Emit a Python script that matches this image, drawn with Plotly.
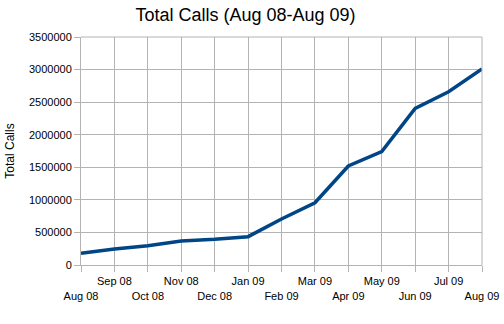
import plotly.graph_objects as go

months = ["Aug 08", "Sep 08", "Oct 08", "Nov 08", "Dec 08", "Jan 09", "Feb 09",
          "Mar 09", "Apr 09", "May 09", "Jun 09", "Jul 09", "Aug 09"]
total_calls = [180000, 245000, 296000, 368000, 394000, 435000, 706000,
               956000, 1520000, 1740000, 2405000, 2660000, 3010000]
y_ticks = [0, 500000, 1000000, 1500000, 2000000, 2500000, 3000000, 3500000]

# staggered month labels: even months on the lower row
tick_text = [("<br>" + m) if i % 2 == 0 else m for i, m in enumerate(months)]

fig = go.Figure()
fig.add_trace(go.Scatter(
    x=list(range(len(months))), y=total_calls, mode="lines",
    line=dict(color="#004586", width=3.5),
    hoverinfo="skip", showlegend=False,
))

grid = "#b3b3b3"
fig.update_layout(
    width=504, height=324,
    margin=dict(l=81, r=22, t=37, b=59),
    paper_bgcolor="white", plot_bgcolor="white",
    font=dict(family="Liberation Sans, Arial, sans-serif", size=11, color="#000000"),
    title=dict(text="Total Calls (Aug 08-Aug 09)", x=0.487, xanchor="center",
               y=0.955, yanchor="middle", font=dict(size=18, color="#000000")),
    xaxis=dict(
        range=[0, len(months) - 1], tickmode="array",
        tickvals=list(range(len(months))), ticktext=tick_text,
        tickangle=0, automargin=False,
        showgrid=True, gridcolor=grid, gridwidth=1,
        showline=True, linecolor=grid, linewidth=1,
        ticks="outside", ticklen=6, tickcolor=grid,
        zeroline=False, fixedrange=True,
    ),
    yaxis=dict(
        range=[0, 3500000], tickmode="array", tickvals=y_ticks,
        ticktext=[str(v) for v in y_ticks], automargin=False,
        showgrid=True, gridcolor=grid, gridwidth=1,
        showline=True, linecolor=grid, linewidth=1,
        ticks="outside", ticklen=6, tickcolor=grid,
        zeroline=False, fixedrange=True,
        title=dict(text="Total Calls", font=dict(size=12), standoff=11),
    ),
)
fig.add_shape(type="line", xref="paper", yref="paper", x0=1, x1=1, y0=0, y1=1,
              line=dict(color=grid, width=1))
fig.add_shape(type="line", xref="paper", yref="paper", x0=0, x1=1, y0=1, y1=1,
              line=dict(color=grid, width=1))

fig.write_html("out.html")
